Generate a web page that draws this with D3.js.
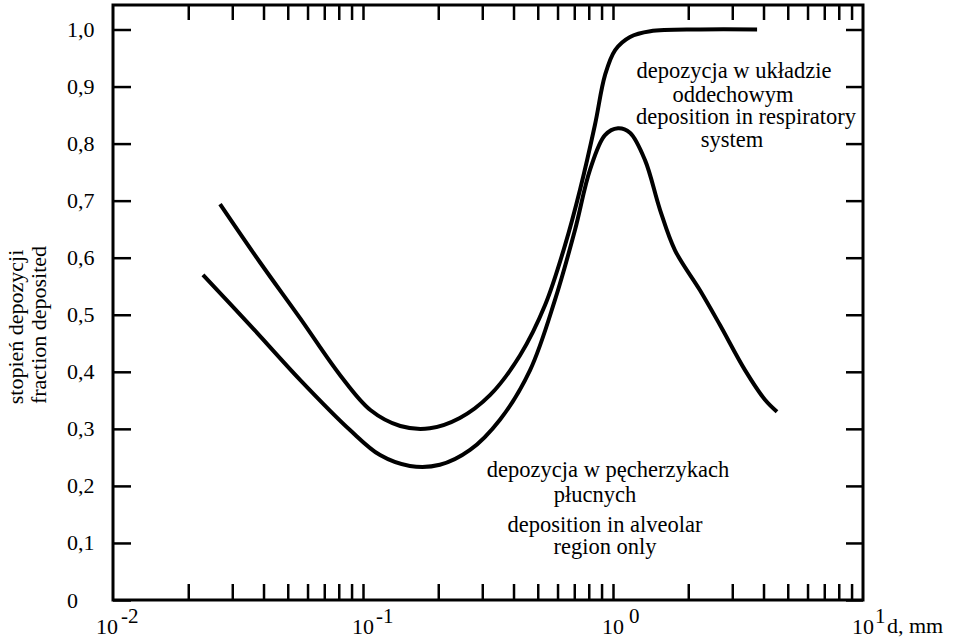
<!DOCTYPE html>
<html>
<head>
<meta charset="utf-8">
<script src="https://cdn.jsdelivr.net/npm/d3@7"></script>
<style>
  body { margin: 0; background: #fff; }
  svg text { font-family: "Liberation Serif", "Times New Roman", serif; fill: #000; }
</style>
</head>
<body>
<svg id="svg1" width="961" height="641"></svg>
<script>
// Deposition curve, whole respiratory system (diameter in mm, fraction)
var respDiam = [0.0268, 0.0387, 0.056, 0.081, 0.107, 0.141, 0.185, 0.244, 0.322, 0.425, 0.535, 0.643, 0.738, 0.847, 0.929, 1.02, 1.17, 1.41, 2.23, 3.77];
var respFrac = [0.694, 0.592, 0.494, 0.394, 0.333, 0.305, 0.301, 0.319, 0.359, 0.429, 0.517, 0.622, 0.719, 0.833, 0.920, 0.964, 0.987, 0.997, 1.0, 1.0];

// Deposition curve, alveolar region only
var alvDiam = [0.0229, 0.0353, 0.056, 0.0887, 0.117, 0.154, 0.203, 0.268, 0.353, 0.466, 0.586, 0.705, 0.809, 0.929, 1.047, 1.169, 1.343, 1.542, 1.77, 2.228, 2.679, 3.373, 4.055, 4.529];
var alvFrac = [0.570, 0.482, 0.386, 0.298, 0.254, 0.235, 0.237, 0.263, 0.316, 0.403, 0.526, 0.649, 0.754, 0.815, 0.827, 0.819, 0.771, 0.684, 0.613, 0.543, 0.482, 0.403, 0.351, 0.330];

// Tick values and labels
var yTickValues = [0, 0.1, 0.2, 0.3, 0.4, 0.5, 0.6, 0.7, 0.8, 0.9, 1.0];
var yTickLabels = ["0", "0,1", "0,2", "0,3", "0,4", "0,5", "0,6", "0,7", "0,8", "0,9", "1,0"];
var xDecades = [0.01, 0.1, 1, 10];
var xExponents = ["-2", "-1", "0", "1"];

// Method to get the x-scale (log)
function getScaleX() {
    return d3.scaleLog()
        .domain([0.01, 10])
        .range([113, 863]);
}

// Method to get the y-scale
function getScaleY() {
    return d3.scaleLinear()
        .domain([0, 1])
        .range([600, 29.5]);
}

function drawAxes(svgSelector) {
    var scaleX = getScaleX();
    var scaleY = getScaleY();
    var svg = d3.select(svgSelector);

    // minor + major ticks, without the ones sitting on the frame
    var xTicks = scaleX.ticks().filter(d => d > 0.01 && d < 10);

    // bottom axis, ticks pointing inwards
    svg.append("g")
        .attr("transform", "translate(0,600)")
        .call(d3.axisBottom(scaleX).tickValues(xTicks).tickSizeInner(-16).tickSizeOuter(0).tickFormat(""));

    // top axis
    svg.append("g")
        .attr("transform", "translate(0,5)")
        .call(d3.axisTop(scaleX).tickValues(xTicks).tickSizeInner(-15).tickSizeOuter(0).tickFormat(""));

    // left axis with labels
    var gY = svg.append("g")
        .attr("transform", "translate(113,0)")
        .call(d3.axisLeft(scaleY).tickValues(yTickValues).tickSizeInner(-18).tickSizeOuter(0)
            .tickFormat((d, i) => yTickLabels[i]));
    gY.selectAll("text")
        .attr("x", -46)
        .attr("text-anchor", "start")
        .style("font-size", "22px");

    // right axis
    svg.append("g")
        .attr("transform", "translate(863,0)")
        .call(d3.axisRight(scaleY).tickValues(yTickValues).tickSizeInner(-17).tickSizeOuter(0).tickFormat(""));

    svg.selectAll(".domain").remove();
    svg.selectAll(".tick line").attr("stroke", "#000").attr("stroke-width", 2.5);

    // frame
    svg.append("rect")
        .attr("x", 113).attr("y", 5)
        .attr("width", 750).attr("height", 595)
        .attr("fill", "none")
        .attr("stroke", "#000")
        .attr("stroke-width", 3);

    // decade labels 10^n
    var supGap = [14, 13, 16, 12];
    xDecades.forEach(function(d, i) {
        var xp = scaleX(d) + (i == 0 ? -6 : 0);
        svg.append("text")
            .attr("x", xp)
            .attr("y", 634)
            .attr("text-anchor", "middle")
            .style("font-size", "22px")
            .text("10");
        svg.append("text")
            .attr("x", xp + supGap[i])
            .attr("y", 623)
            .style("font-size", "21px")
            .text(xExponents[i]);
    });
    svg.append("text")
        .attr("x", 887)
        .attr("y", 633)
        .style("font-size", "22px")
        .text("d, mm");

    // y-axis title, two lines rotated
    svg.append("text")
        .attr("transform", "translate(23,327) rotate(-90)")
        .attr("text-anchor", "middle")
        .style("font-size", "22px")
        .text("stopień depozycji");
    svg.append("text")
        .attr("transform", "translate(46,325) rotate(-90)")
        .attr("text-anchor", "middle")
        .style("font-size", "22px")
        .text("fraction deposited");
}

function plotCurves(svgSelector) {
    var scaleX = getScaleX();
    var scaleY = getScaleY();
    var svg = d3.select(svgSelector);

    var line = d3.line()
        .x(d => scaleX(d[0]))
        .y(d => scaleY(d[1]))
        .curve(d3.curveCatmullRom);

    var resp = respDiam.map((d, i) => [d, respFrac[i]]);
    var alv = alvDiam.map((d, i) => [d, alvFrac[i]]);

    [resp, alv].forEach(function(series) {
        svg.append("path")
            .datum(series)
            .attr("fill", "none")
            .attr("stroke", "#000")
            .attr("stroke-width", 4)
            .attr("d", line);
    });
}

function annotate(svgSelector) {
    var svg = d3.select(svgSelector);
    // label for the respiratory system curve
    var upper = [["depozycja w układzie", 734, 78], ["oddechowym", 733, 102],
                 ["deposition in respiratory", 746, 124], ["system", 732, 147]];
    // label for the alveolar curve
    var lower = [["depozycja w pęcherzykach", 608, 477], ["płucnych", 595, 502],
                 ["deposition in alveolar", 605, 532], ["region only", 605, 554]];
    upper.concat(lower).forEach(function(t) {
        svg.append("text")
            .attr("x", t[1])
            .attr("y", t[2])
            .attr("text-anchor", "middle")
            .style("font-size", "22.5px")
            .text(t[0]);
    });
}

function main() {
    drawAxes("#svg1");
    plotCurves("#svg1");
    annotate("#svg1");
}

main();
</script>
</body>
</html>
